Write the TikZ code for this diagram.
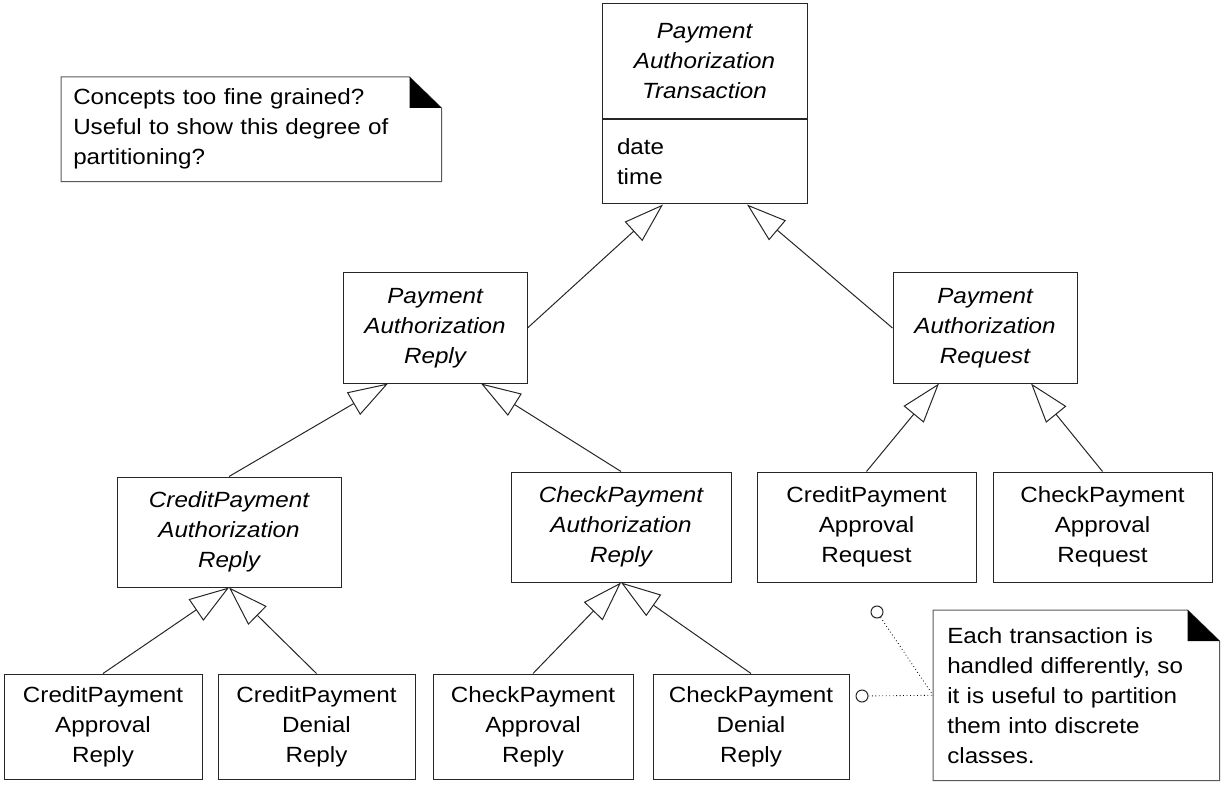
\documentclass[tikz,border=0pt]{standalone}
\usepackage{fontspec}
\setmainfont[FakeStretch=1.1]{Liberation Sans}
\usetikzlibrary{positioning, arrows.meta, calc}

\begin{document}
\begin{tikzpicture}[x=0.75pt, y=-0.75pt,
    every node/.style={font=\fontsize{16.5}{22.5}\selectfont},
    cls/.style 2 args={draw=black!85, line width=0.75pt, minimum width=#1*0.75pt, minimum height=#2*0.75pt, inner sep=0pt, align=center},
    abstract/.style={font=\fontsize{16.5}{22.5}\selectfont\itshape},
    gen/.style={draw=black!85, line width=0.75pt, -{Triangle[open, length=30pt, width=19.5pt]}},
    note/.style={inner ysep=0pt, align=left, anchor=north west},
    pin/.style={circle, draw=black!85, line width=0.75pt, minimum size=9pt, inner sep=0pt}]
    \useasboundingbox (0,0) rectangle (1226,787);

    % class hierarchy
    \node [cls={205}{115}, abstract] (trans) at (704.5,61.5) {Payment\\Authorization\\Transaction};
    \node [cls={205}{84}, below=0pt of trans, text width=131.25pt, inner xsep=11.25pt, align=left] (transattr) {date\\time};

    \node [cls={184}{110}, abstract] (reply) at (435,328) {Payment\\Authorization\\Reply};
    \node [cls={184}{110}, abstract] (request) at (985,328) {Payment\\Authorization\\Request};

    \node [cls={224}{110}, abstract] (creditauth) at (229,532) {CreditPayment\\Authorization\\Reply};
    \node [cls={220}{110}, abstract] (checkauth) at (621,527) {CheckPayment\\Authorization\\Reply};
    \node [cls={219}{110}] (creditreq) at (866.5,527) {CreditPayment\\Approval\\Request};
    \node [cls={219}{110}] (checkreq) at (1102.5,527) {CheckPayment\\Approval\\Request};

    \node [cls={198}{105}] (creditapp) at (103,726.5) {CreditPayment\\Approval\\Reply};
    \node [cls={197}{105}] (creditden) at (316.5,726.5) {CreditPayment\\Denial\\Reply};
    \node [cls={200}{105}] (checkapp) at (533,726.5) {CheckPayment\\Approval\\Reply};
    \node [cls={196}{105}] (checkden) at (751,726.5) {CheckPayment\\Denial\\Reply};

    % generalizations
    \draw [gen] (reply.east) -- ($(transattr.south)+(-41.5,0)$);
    \draw [gen] (request.west) -- ($(transattr.south)+(42.5,0)$);
    \draw [gen] (creditauth.north) -- ($(reply.south)+(-47,0)$);
    \draw [gen] (checkauth.north) -- ($(reply.south)+(46,0)$);
    \draw [gen] (creditreq.north) -- ($(request.south)+(-46,0)$);
    \draw [gen] (checkreq.north) -- ($(request.south)+(46,0)$);
    \draw [gen] (creditapp.north) -- (creditauth.south);
    \draw [gen] (creditden.north) -- (creditauth.south);
    \draw [gen] (checkapp.north) -- (checkauth.south);
    \draw [gen] (checkden.north) -- (checkauth.south);

    % notes
    \node [note, text width=267pt, inner xsep=9pt, minimum height=78pt] (finenote) at (61,77) {Concepts too fine grained?\\Useful to show this degree of\\partitioning?};
    \node [note, text width=193.5pt, inner xsep=10.5pt, minimum height=127.5pt] (partnote) at (933,610) {Each transaction is\\handled differently, so\\it is useful to partition\\them into discrete\\classes.};
    \foreach \n in {finenote, partnote} {
        \draw [line width=0.75pt, draw=black!65] (\n.north west) -- ($(\n.north east)+(-32,0)$) -- ($(\n.north east)+(0,31)$) -- (\n.south east) -- (\n.south west) -- cycle;
        \fill ($(\n.north east)+(-32,0)$) -- ($(\n.north east)+(-32,31)$) -- ($(\n.north east)+(0,31)$) -- cycle;
    }

    \node [pin] (pin1) at (877,612) {};
    \node [pin] (pin2) at (862,696) {};
    \draw [dotted, line width=0.6pt] (pin1) -- (partnote.west);
    \draw [dotted, line width=0.6pt] (pin2) -- (partnote.west);
\end{tikzpicture}
\end{document}
